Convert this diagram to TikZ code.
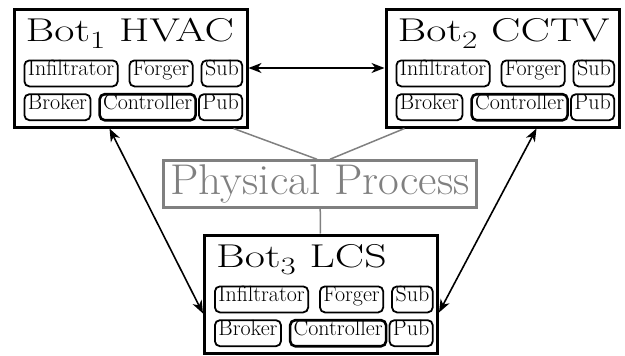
\documentclass[tikz,border=0pt]{standalone}
\usepackage{amsmath}
\usetikzlibrary{positioning, arrows.meta}

\begin{document}
\begin{tikzpicture}[x=1pt, y=-1pt,
    botbox/.style={draw, fill=white, line width=3pt, minimum width=233pt, minimum height=118pt},
    part/.style={draw, line width=1.8pt, rounded corners=5pt, minimum height=26pt, inner xsep=3.5pt, inner ysep=0pt,
        text height=0.7em, text depth=0.22em, font=\fontsize{22}{25}\selectfont},
    titre/.style={inner sep=0pt, font=\fontsize{33}{38}\selectfont},
    lien/.style={<->, >={Stealth[length=13pt, width=10pt, inset=4pt]}, line width=1.6pt},
    flux/.style={draw=gray, line width=1.5pt}]

    \useasboundingbox (0,0) rectangle (625,356);

    % Définitions des bots
    \foreach \n/\nom/\x/\y in {1/HVAC/130.5/68, 2/CCTV/502.5/68, 3/LCS/321/294} {
        \node[botbox] (bot\n) at (\x,\y) {};
        \node[titre, anchor=base west] (titre\n) at ([shift={(13pt,-34pt)}]bot\n.north west)
            {\scalebox{1.33}[1]{Bot$_\n$ \nom}};
        \node[part, anchor=north west] (inf\n) at ([shift={(11pt,-52pt)}]bot\n.north west) {Infiltrator};
        \node[part, right=10pt of inf\n] (forg\n) {Forger};
        \node[part, right=7pt of forg\n] (sub\n) {Sub};
        \node[part, below=6pt of inf\n.south west, anchor=north west] (brok\n) {Broker};
        \node[part, line width=2.6pt, right=7pt of brok\n] (ctrl\n) {Controller};
        \node[part, below=6pt of sub\n.south east, anchor=north east] (pub\n) {Pub};
    }

    % Processus physique
    \node[draw=gray, text=gray, line width=2.5pt, minimum width=313pt, minimum height=47pt,
        font=\fontsize{43}{48}\selectfont] (phys) at (320,184) {\scalebox{1.05}[1]{Physical Process}};

    % Définition des liens
    \path[lien]
    (bot1) edge (bot2)
    ([xshift=97pt]bot1.south west) edge ([yshift=-80pt]bot3.north west)
    ([xshift=152pt]bot2.south west) edge ([yshift=-79pt]bot3.north east);
    \path[flux]
    ([xshift=-15pt]bot1.south east) edge ([xshift=-3pt]phys.north)
    ([xshift=20pt]bot2.south west) edge ([xshift=10pt]phys.north)
    (phys) edge (bot3);

\end{tikzpicture}
\end{document}
